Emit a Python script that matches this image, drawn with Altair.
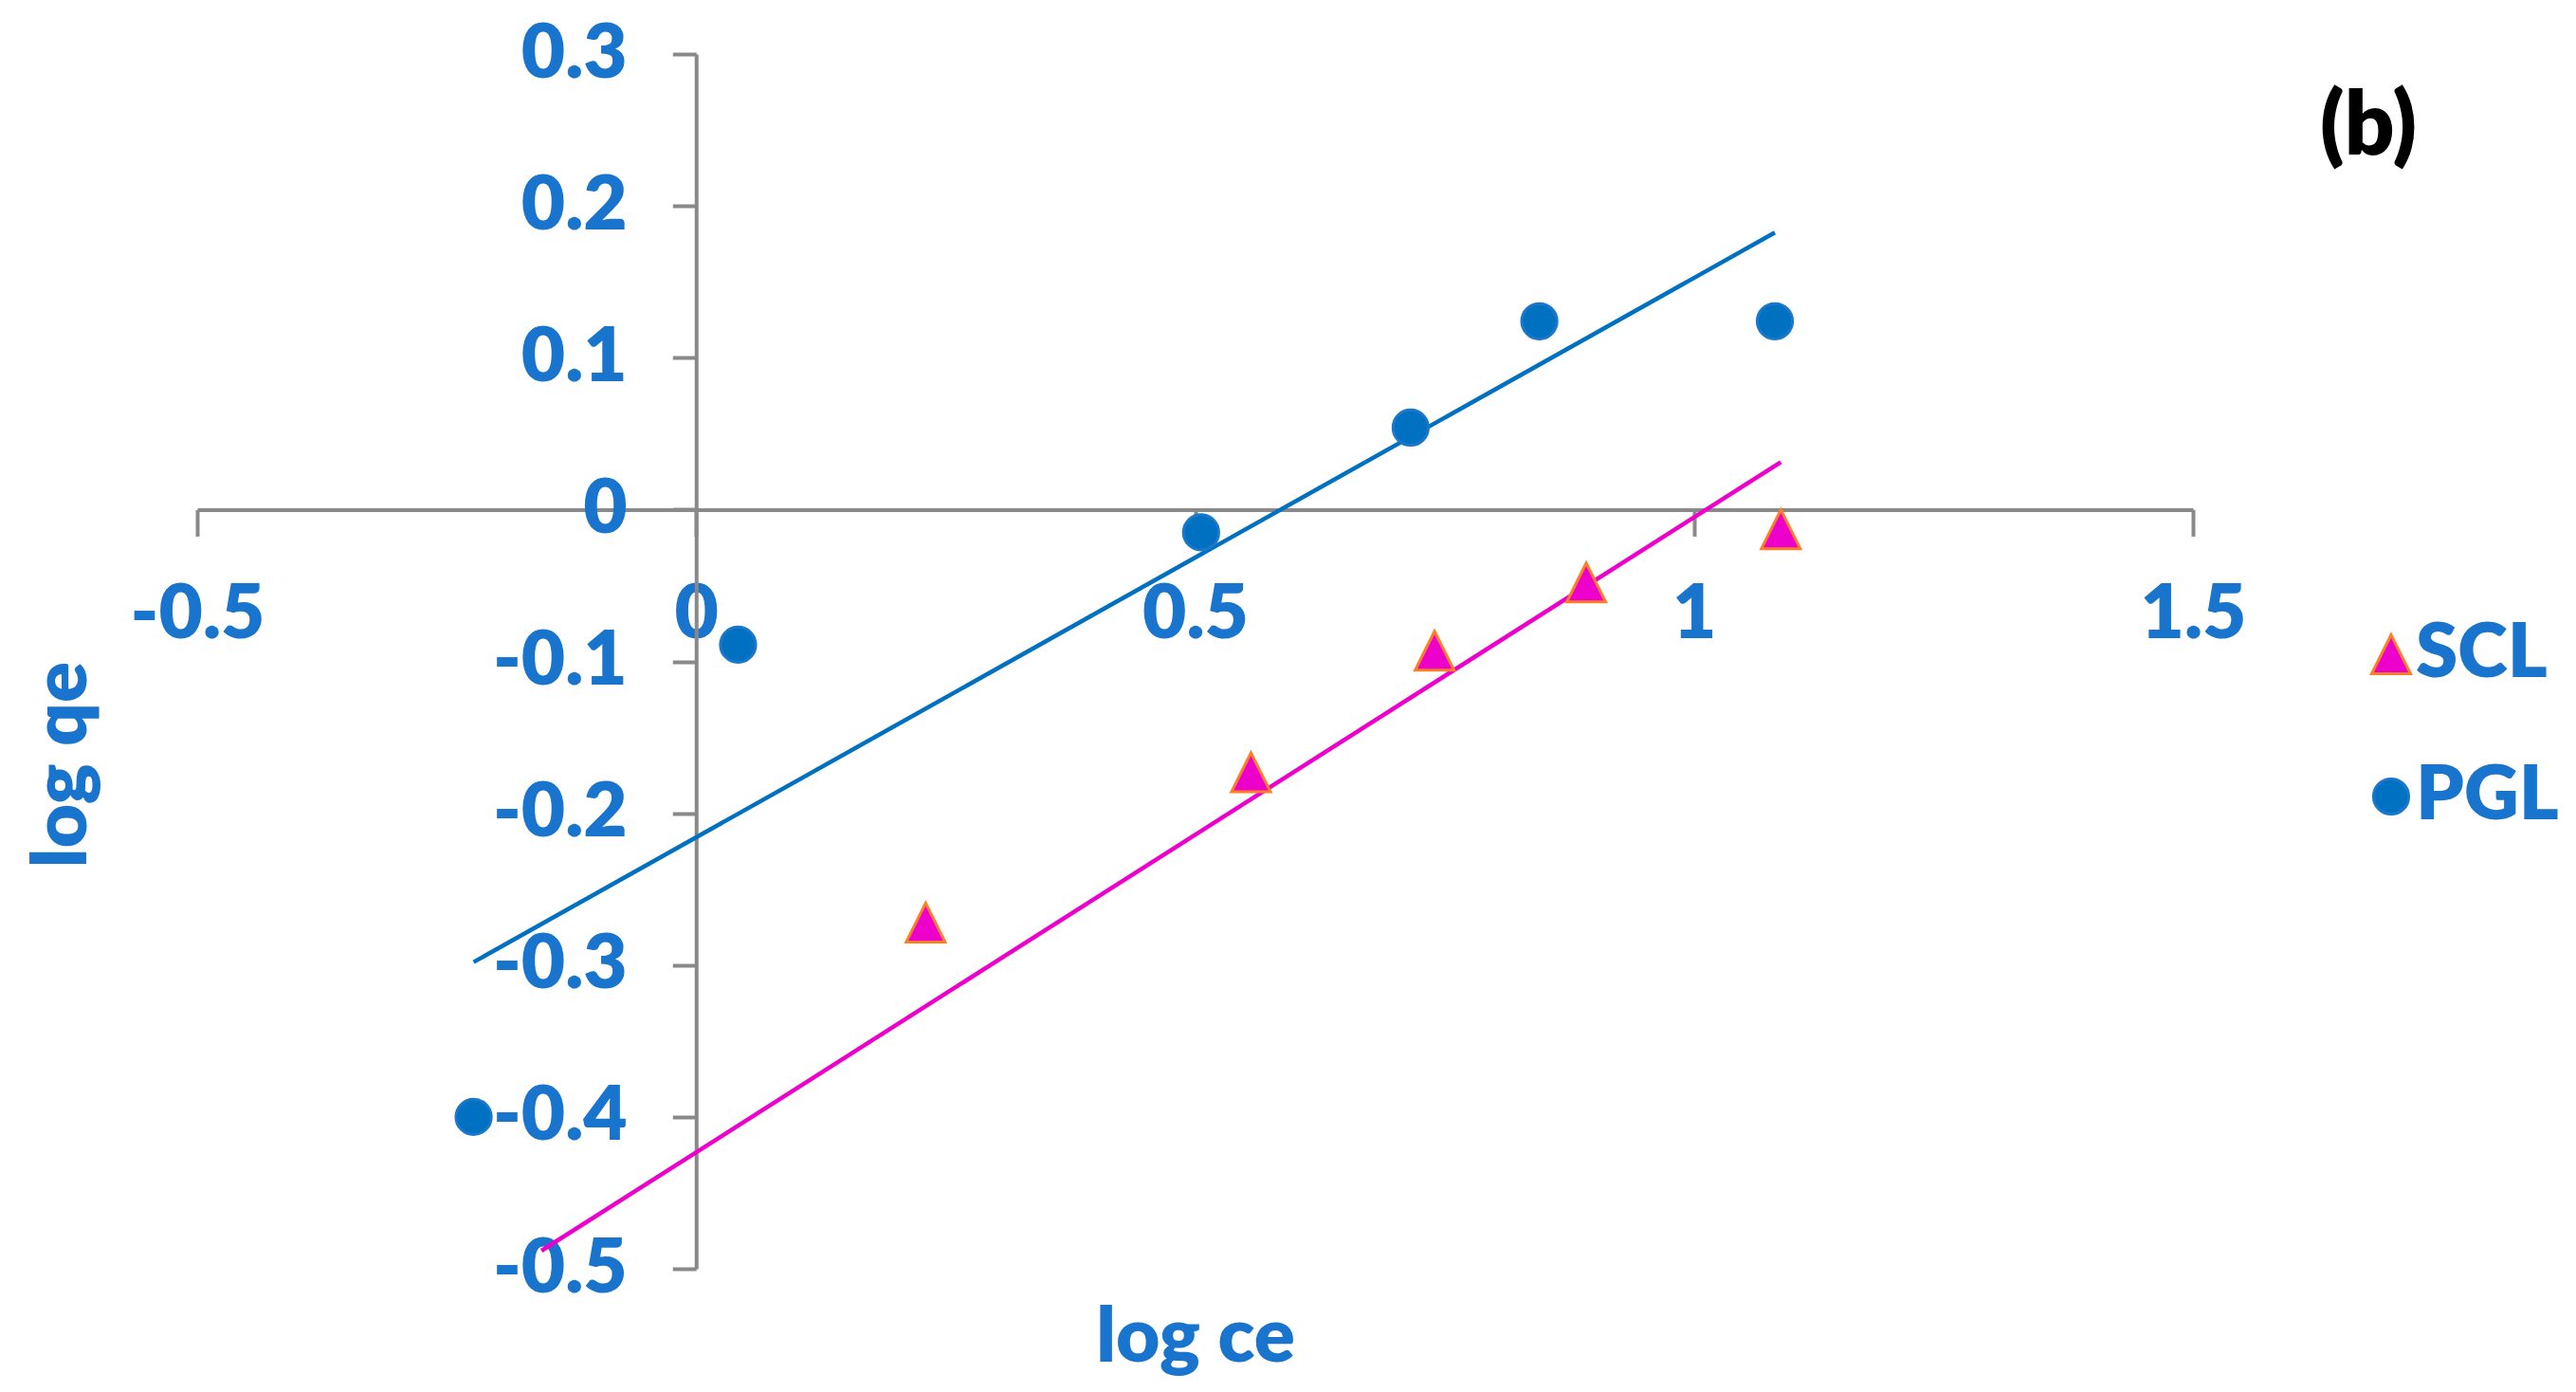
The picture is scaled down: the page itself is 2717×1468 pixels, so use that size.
import altair as alt
import pandas as pd

# ---- data ----
scl_x = [-0.155, 0.230, 0.556, 0.740, 0.892, 1.087]
scl_y = [-0.54, -0.272, -0.173, -0.093, -0.048, -0.013]   # first point lies below the axis range (hidden)
pgl_x = [-0.223, 0.042, 0.506, 0.716, 0.845, 1.081]
pgl_y = [-0.400, -0.089, -0.015, 0.054, 0.124, 0.124]

series_names = ["SCL", "PGL"]
x_ticks = [-0.5, 0, 0.5, 1, 1.5]
y_ticks = [-0.5, -0.4, -0.3, -0.2, -0.1, 0, 0.1, 0.2, 0.3]
x_domain = [-0.5, 1.5]
y_domain = [-0.5, 0.3]

df = pd.concat([
    pd.DataFrame({"x": scl_x, "y": scl_y, "series": "SCL"}),
    pd.DataFrame({"x": pgl_x, "y": pgl_y, "series": "PGL"}),
], ignore_index=True)

W, H = 2105, 1281
FONT = "Lato"
FW = 800
BLUE_TXT = "#1874CC"
AX = "#898989"
FS = 80

x_off = -H * (0 - y_domain[0]) / (y_domain[1] - y_domain[0])
y_off = -W * (0 - x_domain[0]) / (x_domain[1] - x_domain[0])

lab = "replace(format(datum.value, '.1~f'), '\u2212', '-')"

xs = alt.Scale(domain=x_domain, nice=False, zero=False)
ys = alt.Scale(domain=y_domain, nice=False, zero=False)

x_axis = alt.Axis(values=x_ticks, labelExpr=lab, offset=x_off, grid=False,
                  domainColor=AX, domainWidth=4, tickColor=AX, tickWidth=4, tickSize=28,
                  labelFont=FONT, labelFontSize=FS, labelFontWeight=FW, labelColor=BLUE_TXT,
                  labelPadding=44, labelFlush=False, labelOverlap=False,
                  title="log ce", titleFont=FONT, titleFontSize=FS, titleFontWeight=FW,
                  titleColor=BLUE_TXT, titleX=W / 2, titleY=898, titleBaseline="alphabetic",
                  titleAlign="center")
y_axis = alt.Axis(values=y_ticks, labelExpr=lab, offset=y_off, grid=False,
                  domainColor=AX, domainWidth=4, tickColor=AX, tickWidth=4, tickSize=25,
                  labelFont=FONT, labelFontSize=FS, labelFontWeight=FW, labelColor=BLUE_TXT,
                  labelPadding=48, labelFlush=False, labelOverlap=False,
                  title="log qe", titleFont=FONT, titleFontSize=FS, titleFontWeight=FW,
                  titleColor=BLUE_TXT, titleX=-644, titleY=749, titleBaseline="alphabetic",
                  titleAlign="center", titleAngle=-90)

base = alt.Chart(df)

tri = "M0,-1L-1,1L1,1Z"
points = base.mark_point(filled=True, opacity=1, strokeWidth=3, clip=True).encode(
    x=alt.X("x:Q", scale=xs, axis=x_axis),
    y=alt.Y("y:Q", scale=ys, axis=y_axis),
    shape=alt.Shape("series:N", scale=alt.Scale(domain=series_names, range=[tri, "circle"]),
                    legend=alt.Legend(title=None, orient="none", legendX=2274, legendY=593,
                                      labelFont=FONT, labelFontSize=FS, labelFontWeight=FW,
                                      labelColor=BLUE_TXT, labelOffset={"expr": "-14"},
                                      rowPadding=70, padding=0, symbolStrokeWidth=3)),
    fill=alt.Fill("series:N", scale=alt.Scale(domain=series_names, range=["#EE00CC", "#0070C0"])),
    stroke=alt.Stroke("series:N", scale=alt.Scale(domain=series_names, range=["#FF7F27", "#1A78CC"])),
    size=alt.Size("series:N", scale=alt.Scale(domain=series_names, range=[1681, 1385])),
)

line_scl = base.transform_filter(alt.datum.series == "SCL").transform_regression(
    "x", "y").mark_line(color="#EE00CC", strokeWidth=4.5, clip=True).encode(
    x=alt.X("x:Q", scale=xs), y=alt.Y("y:Q", scale=ys))
line_pgl = base.transform_filter(alt.datum.series == "PGL").transform_regression(
    "x", "y").mark_line(color="#0070C0", strokeWidth=4.5, clip=True).encode(
    x=alt.X("x:Q", scale=xs), y=alt.Y("y:Q", scale=ys))

label_b = alt.Chart(pd.DataFrame({"t": ["(b)"]})).mark_text(
    font=FONT, fontSize=92, fontWeight=FW, color="#000000", align="center", baseline="middle"
).encode(text="t:N", x=alt.value(2290), y=alt.value(78))

chart = alt.layer(line_pgl, line_scl, points, label_b).properties(
    width=W, height=H,
    autosize=alt.AutoSizeParams(type="none"),
    padding={"left": 200, "top": 49, "right": 396, "bottom": 122},
).configure_view(stroke=None)

chart.save("out.html", embed_options={"renderer": "svg", "actions": False})
